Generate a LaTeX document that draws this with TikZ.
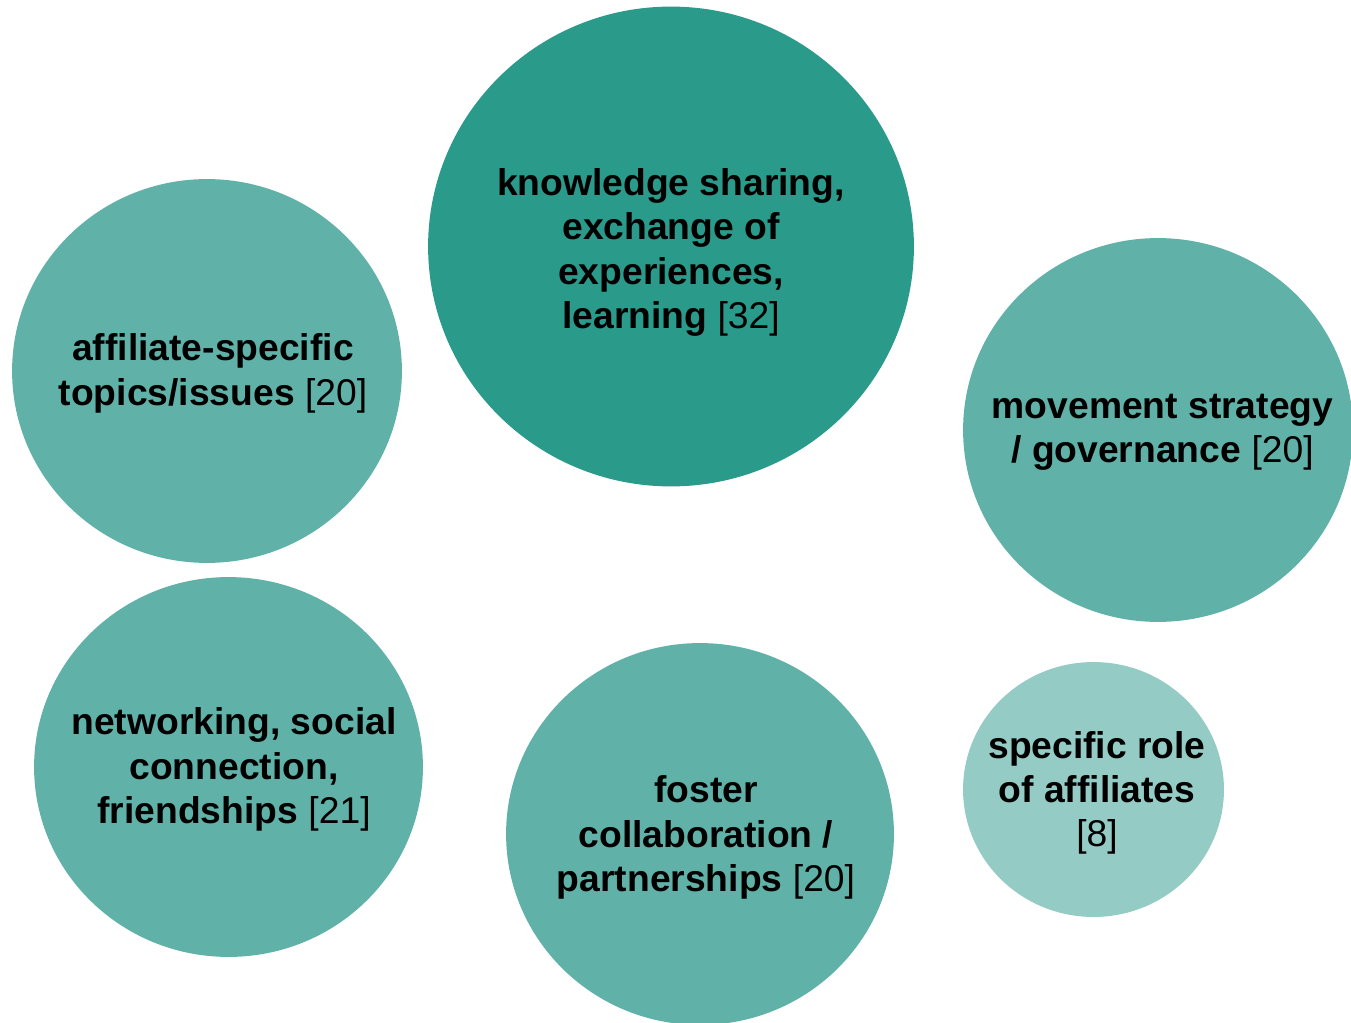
\documentclass[tikz,border=0pt]{standalone}
\usepackage{fontspec}
\setmainfont{Liberation Sans}
\usetikzlibrary{shapes.geometric}
\begin{document}
\begin{tikzpicture}[x = 0.02cm, y = -0.02cm,
  bubble/.style 2 args = {ellipse, inner sep = 0pt, minimum width = #1*0.04cm, minimum height = #2*0.04cm},
  topic/.style = {align = center, text = black, font = \fontsize{21.2}{25.2}\selectfont\bfseries}]
\useasboundingbox (0, 0) rectangle (1351, 1023);
\definecolor{col}{HTML}{2A9A8A}
\node[bubble = {243}{240}, fill = col] (knowledge) at (671, 246.5) {};
\node[topic] (knowledge-text) at (671, 252.5) {knowledge sharing,\\exchange of\\experiences,\\learning \textmd{[32]}};
\definecolor{col}{HTML}{60B2A8}
\node[bubble = {195}{192}, fill = col] (affiliate) at (207, 371) {};
\node[topic] (affiliate-text) at (213, 373.5) {affiliate-specific\\topics/issues \textmd{[20]}};
\node[bubble = {195}{192}, fill = col] (strategy) at (1158, 430) {};
\node[topic] (strategy-text) at (1162.5, 432.5) {movement strategy\\/ governance \textmd{[20]}};
\node[bubble = {194.5}{190}, fill = col] (networking) at (228.5, 767) {};
\node[topic] (networking-text) at (234, 769.5) {networking, social\\connection,\\friendships \textmd{[21]}};
\node[bubble = {194}{191}, fill = col] (collaboration) at (700, 834) {};
\node[topic] (collaboration-text) at (706, 837.5) {foster\\collaboration /\\partnerships \textmd{[20]}};
\definecolor{col}{HTML}{94CBC4}
\node[bubble = {130.5}{127.5}, fill = col] (role) at (1093.5, 789.5) {};
\node[topic] (role-text) at (1097, 793) {specific role\\of affiliates\\\textmd{[8]}};
\end{tikzpicture}
\end{document}
